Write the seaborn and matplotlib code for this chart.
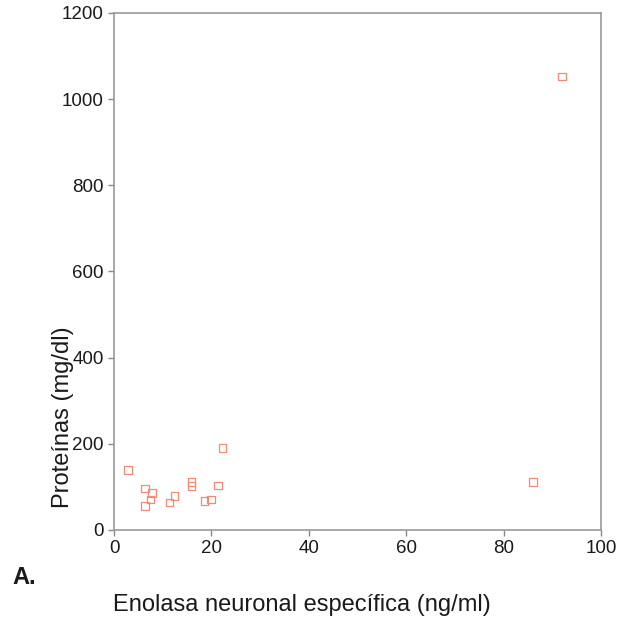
import matplotlib
matplotlib.use("Agg")
import matplotlib.pyplot as plt
import seaborn as sns
import pandas as pd

# Neuron-specific enolase vs CSF protein
enolasa = [2.9, 6.4, 7.8, 7.5, 6.4, 11.4, 12.4, 15.9, 15.9, 18.6, 19.9, 21.3, 22.3, 86.0, 92.0]
proteinas = [139, 96, 86, 71, 56, 64, 79, 112, 102, 68, 71, 103, 190, 111, 1053]

x_ticks = [0, 20, 40, 60, 80, 100]
y_ticks = [0, 200, 400, 600, 800, 1000, 1200]

df = pd.DataFrame({"enolasa": enolasa, "proteinas": proteinas})

sns.set_theme(style="white")
plt.rcParams["font.family"] = ["Liberation Sans", "DejaVu Sans"]

fig = plt.figure(figsize=(6.22, 6.17), dpi=100)
ax = fig.add_axes([114 / 622, 1 - 530 / 617, (601 - 114) / 622, (530 - 13) / 617])

sns.scatterplot(data=df, x="enolasa", y="proteinas", ax=ax, marker="s", s=30,
                facecolor="none", edgecolor="#EE8C78", linewidth=0.9)

ax.set_xlim(0, 100)
ax.set_ylim(0, 1200)
ax.set_xticks(x_ticks)
ax.set_yticks(y_ticks)
ax.tick_params(axis="both", which="both", direction="out", length=4, width=1,
               color="#888888", labelsize=13.5, labelcolor="#1a1a1a",
               bottom=True, left=True)
for side in ax.spines.values():
    side.set_color("#999999")
    side.set_linewidth(1.2)

ax.set_xlabel("")
ax.set_ylabel("Proteínas (mg/dl)", fontsize=17, color="#1a1a1a")
ax.yaxis.set_label_coords(-0.082, 0.219)

fig.text(302 / 622, 1 - 605 / 617, "Enolasa neuronal específica (ng/ml)",
         ha="center", va="center", fontsize=17, color="#1a1a1a")
fig.text(12 / 622, 1 - 577 / 617, "A.", ha="left", va="center",
         fontsize=17, fontweight="bold", color="#1a1a1a")

fig.savefig("out.png", dpi=100)
